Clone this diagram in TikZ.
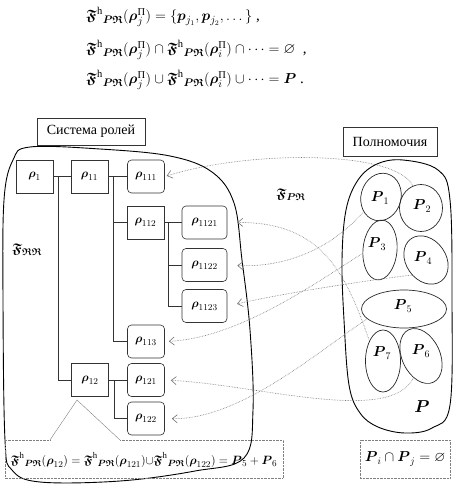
\documentclass[tikz,border=0pt]{standalone}
\usepackage{amsmath,amssymb}
\usepackage{fontspec}
\setmainfont{Liberation Serif}
\usetikzlibrary{positioning, arrows.meta, shapes.geometric}

\newcommand{\Fpr}{\boldsymbol{\mathfrak{F}}^{\mathrm{h}}{}_{\boldsymbol{P\mathfrak{R}}}}
\newcommand{\rP}[1]{\boldsymbol{\rho}^{\text{П}}_{#1}}
\newcommand{\br}{\boldsymbol{\rho}}
\newcommand{\bP}{\boldsymbol{P}}

\begin{document}
\begin{tikzpicture}[x=1pt,y=-1pt,
  rolesq/.style={draw=black!80,line width=0.6pt,minimum width=37pt,minimum height=33pt,inner sep=1pt,font=\fontsize{13}{15}\selectfont},
  rolernd/.style={rolesq,rounded corners=4pt},
  pset/.style={draw=black!85,ellipse,line width=0.7pt,inner sep=0pt},
  permlink/.style={black!55,densely dotted,line width=0.6pt,-{Straight Barb[length=5pt,width=8pt]}},
  rolelink/.style={draw=black!80,line width=0.6pt},
  titlebox/.style={draw=black!80,line width=0.6pt,font=\fontsize{14}{16}\selectfont,inner sep=2pt},
  formula/.style={anchor=west,inner sep=0pt,font=\fontsize{15}{17}\selectfont}]
  \useasboundingbox (0,0) rectangle (455,492);

  % formulas
  \node[formula] (f1) at (86,17) {$\Fpr(\rP{j}) = \{\boldsymbol{p}_{j_1},\boldsymbol{p}_{j_2},\dots\}$ ,};
  \node[formula] (f2) at (86,50) {$\Fpr(\rP{j})\cap\Fpr(\rP{i})\cap\dots=\varnothing$ \ ,};
  \node[formula] (f3) at (86,80) {$\Fpr(\rP{j})\cup\Fpr(\rP{i})\cup\dots=\bP$ .};

  % role system
  \draw[line width=0.9pt] plot[smooth cycle,tension=0.6] coordinates {(30,147) (100,149) (170,156) (212,172) (234,203) (242,260) (250,330) (253,410) (244,458) (195,471) (120,481) (40,482) (12,470) (5,440) (3,300) (4,200) (13,160)};
  \node[titlebox,fill=white,minimum width=108pt,minimum height=27pt] (sys) at (91,131.5) {Система ролей};

  \node[rolesq] (r1) at (34.5,176.5) {$\br_{1}$};
  \node[rolesq] (r11) at (89.5,176.5) {$\br_{11}$};
  \node[rolernd] (r111) at (146,176.5) {$\br_{111}$};
  \node[rolesq] (r112) at (145.5,222.5) {$\br_{112}$};
  \node[rolernd,minimum width=45pt] (r1121) at (204.5,222.5) {$\br_{1121}$};
  \node[rolernd,minimum width=45pt] (r1122) at (204.5,265) {$\br_{1122}$};
  \node[rolernd,minimum width=45pt] (r1123) at (204.5,306) {$\br_{1123}$};
  \node[rolernd] (r113) at (146,341.5) {$\br_{113}$};
  \node[rolesq] (r12) at (90,380) {$\br_{12}$};
  \node[rolernd] (r121) at (146,380) {$\br_{121}$};
  \node[rolernd] (r122) at (146,418.5) {$\br_{122}$};

  \draw[rolelink] (r1) -- (r11);
  \draw[rolelink] (r11) -- (r111);
  \draw[rolelink] (r112) -- (r1121);
  \draw[rolelink] (r12) -- (r121);
  \draw[rolelink] ([xshift=5pt]r1.east) |- (r12.west);
  \draw[rolelink] ([xshift=5pt]r11.east) |- (r112.west);
  \draw[rolelink] ([xshift=5pt]r11.east) |- (r113.west);
  \draw[rolelink] ([xshift=4pt]r112.east) |- (r1122.west);
  \draw[rolelink] ([xshift=4pt]r112.east) |- (r1123.west);
  \draw[rolelink] ([xshift=5pt]r12.east) |- (r122.west);

  \node[font=\fontsize{14}{16}\selectfont] (FRR) at (27,250) {$\boldsymbol{\mathfrak{F}}_{\boldsymbol{\mathfrak{R}\mathfrak{R}}}$};
  \node[font=\fontsize{14}{16}\selectfont] (FPR) at (291,195) {$\boldsymbol{\mathfrak{F}}_{\boldsymbol{P\mathfrak{R}}}$};

  % permissions
  \draw[line width=0.9pt] plot[smooth cycle,tension=0.6] coordinates {(403,160) (438,170) (450,200) (452,300) (450,405) (432,428) (405,433) (378,427) (360,413) (349,385) (344,320) (342,260) (346,210) (358,180) (377,164)};
  \node[titlebox,fill=white,minimum width=94pt,minimum height=29pt] (perm) at (390,141.5) {Полномочия};

  \node[pset,minimum width=40pt,minimum height=48pt,rotate=-15] (P1) at (381,197) {};
  \node[pset,minimum width=43pt,minimum height=47pt] (P2) at (421,208) {};
  \node[pset,minimum width=34pt,minimum height=60pt,rotate=-5] (P3) at (380,250) {};
  \node[pset,minimum width=40pt,minimum height=52pt,rotate=35] (P4) at (426,260) {};
  \node[pset,minimum width=85pt,minimum height=38pt] (P5) at (404,309) {};
  \node[pset,minimum width=35pt,minimum height=62pt] (P7) at (383,361) {};
  \node[pset,minimum width=38pt,minimum height=58pt,rotate=25] (P6) at (421,356) {};

  \node[font=\fontsize{14}{16}\selectfont] (lP1) at (380,198) {$\bP_{1}$};
  \node[font=\fontsize{14}{16}\selectfont] (lP2) at (422,206) {$\bP_{2}$};
  \node[font=\fontsize{14}{16}\selectfont] (lP3) at (377,244) {$\bP_{3}$};
  \node[font=\fontsize{14}{16}\selectfont] (lP4) at (423,258) {$\bP_{4}$};
  \node[font=\fontsize{14}{16}\selectfont] (lP5) at (403,306) {$\bP_{5}$};
  \node[font=\fontsize{14}{16}\selectfont] (lP7) at (382,353) {$\bP_{7}$};
  \node[font=\fontsize{14}{16}\selectfont] (lP6) at (421,351) {$\bP_{6}$};
  \node[font=\fontsize{16}{18}\selectfont] (lP) at (422,407) {$\bP$};

  % links
  \draw[permlink,shorten >=2pt] (P2.110) .. controls (395,150) and (250,150) .. (r111.east);
  \draw[permlink,shorten >=10pt] (P7.124) .. controls (345,270) and (320,222) .. (r1121.east);
  \draw[permlink,shorten >=10pt] (P1.235) .. controls (335,245) and (290,268) .. (r1122.east);
  \draw[permlink,shorten >=10pt] (P4.192) .. controls (370,280) and (290,292) .. (r1123.east);
  \draw[permlink,shorten >=4pt] (P3.196) .. controls (320,280) and (240,338) .. (r113.east);
  \draw[permlink,shorten >=6pt] (P6.226) .. controls (390,425) and (260,385) .. (r121.east);
  \draw[permlink,shorten >=7pt] (P5.195) .. controls (320,350) and (240,420) .. (r122.east);

  % bottom formulas
  \coordinate (cL) at (50,440);
  \coordinate (cR) at (120,440);
  \coordinate (cTop) at (77,400);
  \draw[black!50,densely dotted] (cL) -- (5,440) -- (5,478) -- (283,478) -- (283,440) -- (cR);
  \draw[black!50,line width=0.4pt] (cL) -- (cTop) -- (cR);
  \node[font=\fontsize{12.5}{14}\selectfont] (sumF) at (144,460) {$\Fpr(\br_{12})= \Fpr(\br_{121}){\cup}\Fpr(\br_{122}) = \bP_{5} + \bP_{6}$};
  \node[draw=black!50,densely dotted,minimum width=90pt,minimum height=38pt,font=\fontsize{14}{16}\selectfont] (disj) at (405,459) {$\bP_i \cap \bP_j = \varnothing$};
\end{tikzpicture}
\end{document}
